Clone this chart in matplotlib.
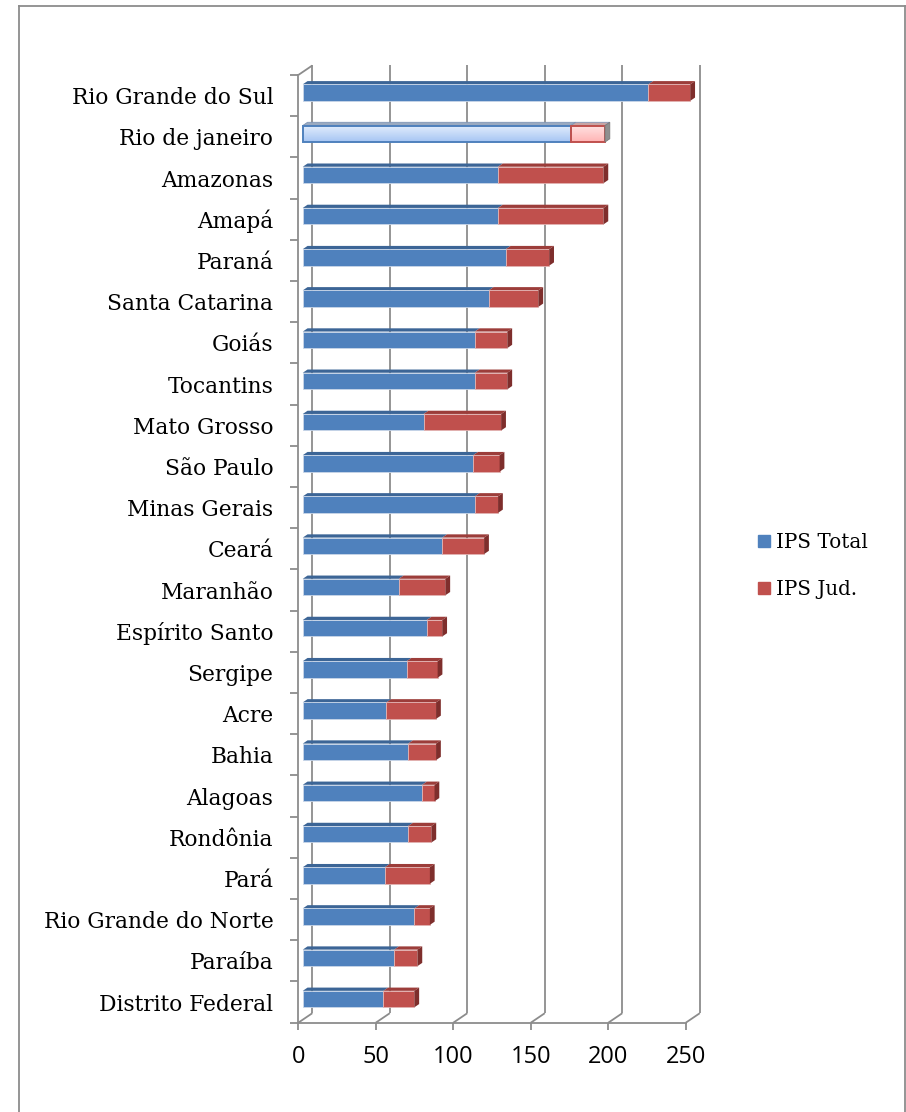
import numpy as np
import matplotlib
matplotlib.use("Agg")
import matplotlib.pyplot as plt
from matplotlib.patches import Polygon, Rectangle
from matplotlib.lines import Line2D

# ---- data -------------------------------------------------------------
states = ["Rio Grande do Sul", "Rio de janeiro", "Amazonas", "Amapá", "Paraná",
          "Santa Catarina", "Goiás", "Tocantins", "Mato Grosso", "São Paulo",
          "Minas Gerais", "Ceará", "Maranhão", "Espírito Santo", "Sergipe",
          "Acre", "Bahia", "Alagoas", "Rondônia", "Pará",
          "Rio Grande do Norte", "Paraíba", "Distrito Federal"]
ips_total = [223, 173, 126, 126, 131, 120, 111, 111, 78, 110, 111, 90, 62,
             80, 67, 54, 68, 77, 68, 53, 72, 59, 52]
ips_jud = [27, 22, 68, 68, 28, 32, 21, 21, 50, 17, 15, 27, 30, 10, 20, 32,
           18, 8, 15, 29, 10, 15, 20]
series_names = ["IPS Total", "IPS Jud."]
x_ticks = [0, 50, 100, 150, 200, 250]
highlight = "Rio de janeiro"

# ---- style ------------------------------------------------------------
GRID = "#8c8c8c"
BLUE, BLUE_TOP = "#4f81bd", "#3c6596"
RED, RED_TOP, RED_SIDE = "#c0504d", "#9c3d3a", "#7e2e2c"
SERIF = ["DejaVu Serif"]
SANS = ["Open Sans", "DejaVu Sans"]

W, H, DPI = 906, 1112, 100
fig = plt.figure(figsize=(W / DPI, H / DPI), dpi=DPI)

# axes = front plane of the 3-D box (pixel geometry)
ax_l, ax_r, ax_t, ax_b = 298.3, 685.8, 75.0, 1022.7
ax = fig.add_axes([ax_l / W, 1 - ax_b / H, (ax_r - ax_l) / W, (ax_b - ax_t) / H])
n = len(states)
ax.set_xlim(0, 250)
ax.set_ylim(n - 0.5, -0.5)

# data units per pixel, and the depth vector of the box (pixels: right, up)
kx = 250 / (ax_r - ax_l)
ky = n / (ax_b - ax_t)
DX, DY = 14.0, 9.5


def S(x, y, depth):
    """Point (x, y) pushed back into the box by `depth` (0 front, 1 back)."""
    return (x + depth * DX * kx, y - depth * DY * ky)


# ---- walls, floor, grid ---------------------------------------------
for s in ["top", "right"]:
    ax.spines[s].set_visible(False)
for s in ["left", "bottom"]:
    ax.spines[s].set_color(GRID)
    ax.spines[s].set_linewidth(1.3)

line_kw = dict(color=GRID, lw=1.3, clip_on=False, zorder=1,
               solid_capstyle="butt")
for v in x_ticks:
    (x0, y0), (x1, y1) = S(v, n - 0.5, 1), S(v, -0.5, 1)
    ax.add_line(Line2D([x0, x1], [y0, y1], **line_kw))
    fx, fy = S(v, n - 0.5, 1)
    ax.add_line(Line2D([v, fx], [n - 0.5, fy], **line_kw))
tx, ty = S(0, -0.5, 1)
ax.add_line(Line2D([0, tx], [-0.5, ty], **line_kw))

# ---- bars -------------------------------------------------------------
F0, F1 = 0.32, 0.66
HH = 0.2


def poly(pts, fc, ec="none", lw=0.0, z=3):
    p = Polygon(pts, closed=True, facecolor=fc, edgecolor=ec, lw=lw,
                clip_on=False, zorder=z, joinstyle="miter")
    ax.add_patch(p)
    return p


def gradient_face(x0, x1, yt, yb, c_top, c_bot, edge, z):
    (a, t), (b, bt) = S(x0, yt, F0), S(x1, yb, F0)
    face = Rectangle((a, t), b - a, bt - t, facecolor="none", edgecolor=edge,
                     lw=1.4, clip_on=False, zorder=z + 0.5)
    ax.add_patch(face)
    grad = np.linspace(0, 1, 64)[:, None]
    c0 = np.array(matplotlib.colors.to_rgb(c_top))
    c1 = np.array(matplotlib.colors.to_rgb(c_bot))
    img = (c0[None, None, :] * (1 - grad[:, :, None])
           + c1[None, None, :] * grad[:, :, None])
    im = ax.imshow(img, extent=(a, b, bt, t), aspect="auto", zorder=z,
                   interpolation="bilinear", origin="upper")
    im.set_clip_path(face)


for i, (name, b, r) in enumerate(zip(states, ips_total, ips_jud)):
    yt, yb = i - HH, i + HH
    end = b + r
    hl = name == highlight
    segs = [(0, b, BLUE, BLUE_TOP), (b, end, RED, RED_TOP)]
    for k, (x0, x1, fc, tc) in enumerate(segs):
        if hl:
            tc = "#9aaac0" if k == 0 else "#c8a4a4"
        poly([S(x0, yt, F0), S(x1, yt, F0), S(x1, yt, F1), S(x0, yt, F1)], tc,
             ec=("#7f95b5" if hl else "none"), lw=(0.6 if hl else 0), z=3)
        if hl:
            if k == 0:
                gradient_face(x0, x1, yt, yb, "#e3eefd", "#a6c5f3", BLUE, 4)
            else:
                gradient_face(x0, x1, yt, yb, "#ffe3e3", "#ffb4b4", RED, 4)
        else:
            poly([S(x0, yt, F0), S(x1, yt, F0), S(x1, yb, F0), S(x0, yb, F0)], fc,
                 ec="#c9d6e8" if k == 0 else "#e2b2b1", lw=0.6, z=4)
    sc = "#8f8f8f" if hl else RED_SIDE
    poly([S(end, yt, F0), S(end, yb, F0), S(end, yb, F1), S(end, yt, F1)], sc,
         ec=("#7a7a7a" if hl else "none"), lw=(0.6 if hl else 0), z=5)

ax.set_xlim(0, 250)
ax.set_ylim(n - 0.5, -0.5)

# ---- ticks & labels -------------------------------------------------
ax.set_xticks(x_ticks)
ax.set_xticklabels([str(v) for v in x_ticks], fontfamily=SANS, fontsize=17)
ax.tick_params(axis="x", length=5.2, width=1.3, color=GRID, pad=11)

ax.set_yticks(range(n))
ax.set_yticklabels(states, fontfamily=SERIF, fontsize=15.7)
ax.set_yticks(np.arange(-0.5, n, 1.0), minor=True)
ax.tick_params(axis="y", which="major", length=0, pad=18)
ax.tick_params(axis="y", which="minor", length=5.8, width=1.3, color=GRID)
ax.set_facecolor("none")

# ---- legend -----------------------------------------------------------
handles = [Line2D([], [], marker="s", ls="", markersize=9, color=c)
           for c in (BLUE, RED)]
fig.legend(handles, series_names, loc="center left",
           bbox_to_anchor=(748 / W, 1 - 566 / H), frameon=False,
           prop={"family": SERIF, "size": 14.3}, handlelength=0.8,
           handletextpad=0.22, labelspacing=1.4, borderaxespad=0)

# ---- outer chart frame ----------------------------------------------
for xs, ys in [([19, 19], [6, H + 5]), ([19, 905], [6, 6]), ([905, 905], [6, H + 5])]:
    fig.add_artist(Line2D([x / W for x in xs], [1 - y / H for y in ys],
                          color=GRID, lw=1.3, transform=fig.transFigure))

fig.savefig("out.png", dpi=DPI)
